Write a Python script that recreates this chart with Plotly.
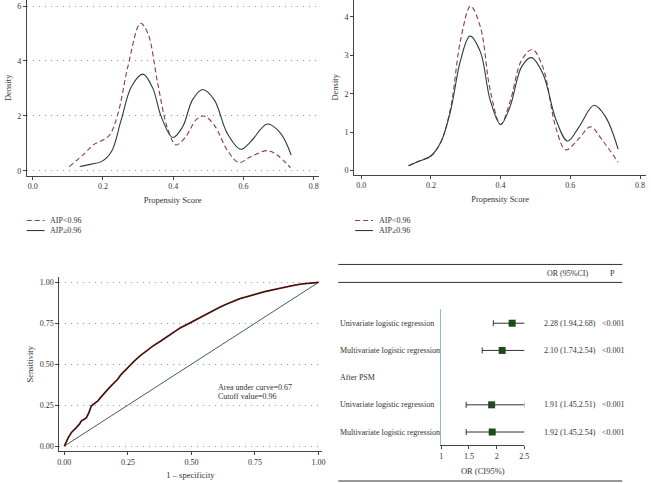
import plotly.graph_objects as go

# ---------------- data ----------------
# Before PSM density (top-left)
pre_low_x = [0.104, 0.148, 0.172, 0.196, 0.219, 0.243, 0.271, 0.307, 0.328, 0.356, 0.384, 0.408,
             0.436, 0.465, 0.488, 0.517, 0.554, 0.587, 0.621, 0.668, 0.696, 0.734]
pre_low_y = [0.15, 0.63, 0.94, 1.09, 1.30, 2.09, 3.79, 5.37, 5.00, 3.18, 1.54, 0.94,
             1.24, 1.85, 1.99, 1.66, 0.75, 0.30, 0.51, 0.73, 0.57, 0.11]
pre_high_x = [0.134, 0.167, 0.196, 0.224, 0.252, 0.281, 0.314, 0.342, 0.366, 0.399, 0.427, 0.455,
              0.484, 0.517, 0.554, 0.592, 0.621, 0.668, 0.706, 0.736]
pre_high_y = [0.15, 0.24, 0.33, 0.69, 1.85, 3.06, 3.52, 3.00, 1.97, 1.21, 1.60, 2.58,
              2.96, 2.58, 1.36, 0.78, 1.06, 1.70, 1.36, 0.57]

# After PSM density (top-right)
post_low_x = [0.136, 0.167, 0.200, 0.229, 0.257, 0.285, 0.314, 0.342, 0.370, 0.400, 0.427, 0.460,
              0.491, 0.521, 0.559, 0.587, 0.625, 0.658, 0.691, 0.737]
post_low_y = [0.13, 0.25, 0.38, 0.75, 1.65, 3.39, 4.28, 3.74, 2.10, 1.20, 1.79, 2.87,
              3.15, 2.70, 1.10, 0.54, 0.84, 1.14, 0.80, 0.22]
post_high_x = [0.136, 0.167, 0.200, 0.229, 0.257, 0.285, 0.312, 0.342, 0.370, 0.400, 0.427, 0.460,
               0.488, 0.521, 0.559, 0.592, 0.625, 0.668, 0.701, 0.737]
post_high_y = [0.13, 0.25, 0.38, 0.75, 1.58, 2.87, 3.50, 3.09, 1.84, 1.20, 1.66, 2.70,
               2.94, 2.53, 1.32, 0.77, 1.14, 1.70, 1.40, 0.56]

# ROC curve
roc_fpr = [0.000, 0.008, 0.016, 0.028, 0.040, 0.048, 0.060, 0.067, 0.080, 0.087, 0.097, 0.106,
           0.120, 0.132, 0.145, 0.158, 0.170, 0.184, 0.197, 0.210, 0.222, 0.236, 0.255, 0.275,
           0.295, 0.313, 0.333, 0.352, 0.378, 0.404, 0.430, 0.456, 0.482, 0.508, 0.534, 0.560,
           0.585, 0.611, 0.637, 0.663, 0.690, 0.715, 0.754, 0.793, 0.832, 0.870, 0.903, 0.935,
           0.968, 1.000]
roc_tpr = [0.000, 0.030, 0.053, 0.083, 0.100, 0.114, 0.135, 0.154, 0.165, 0.174, 0.205, 0.245,
           0.262, 0.276, 0.300, 0.327, 0.345, 0.367, 0.385, 0.408, 0.435, 0.458, 0.490, 0.519,
           0.548, 0.570, 0.595, 0.615, 0.640, 0.667, 0.695, 0.722, 0.742, 0.763, 0.787, 0.809,
           0.830, 0.848, 0.866, 0.884, 0.900, 0.911, 0.930, 0.945, 0.958, 0.972, 0.982, 0.990,
           0.996, 1.000]
diag_x = [0, 1]
diag_y = [0, 1]

# Forest plot
forest_labels = ["Univariate logistic regression", "Multivariate logistic regression",
                 "Univariate logistic regression", "Multivariate logistic regression"]
forest_rows = [6, 5, 3, 2]
forest_or = [2.28, 2.10, 1.91, 1.92]
forest_lo = [1.94, 1.74, 1.45, 1.45]
forest_hi = [2.68, 2.54, 2.51, 2.54]
forest_p = ["<0.001", "<0.001", "<0.001", "<0.001"]
group_labels = ["Before PSM", "After PSM"]
group_rows = [6.92, 4]

W, H = 651, 483
def px(x):
    return x / W
def py(y):
    return 1 - y / H

FONT = "Liberation Serif"
C_LOW = "#8b3a44"
C_HIGH = "#2b3942"
AX = "#444444"
GRID = "#9a9a9a"
GDASH = "1px,5px"
LDASH = "5px,3px"

fig = go.Figure()

# top-left
fig.add_trace(go.Scatter(x=pre_low_x, y=pre_low_y, mode="lines", line=dict(color=C_LOW, width=1.1, dash=LDASH, shape="spline"),
                         xaxis="x", yaxis="y", showlegend=False))
fig.add_trace(go.Scatter(x=pre_high_x, y=pre_high_y, mode="lines", line=dict(color=C_HIGH, width=1.1, shape="spline"),
                         xaxis="x", yaxis="y", showlegend=False))
# top-right
fig.add_trace(go.Scatter(x=post_low_x, y=post_low_y, mode="lines", line=dict(color=C_LOW, width=1.1, dash=LDASH, shape="spline"),
                         xaxis="x2", yaxis="y2", showlegend=False))
fig.add_trace(go.Scatter(x=post_high_x, y=post_high_y, mode="lines", line=dict(color=C_HIGH, width=1.1, shape="spline"),
                         xaxis="x2", yaxis="y2", showlegend=False))
# ROC
fig.add_trace(go.Scatter(x=diag_x, y=diag_y, mode="lines", line=dict(color="#3f5e59", width=1),
                         xaxis="x3", yaxis="y3", showlegend=False))
fig.add_trace(go.Scatter(x=roc_fpr, y=roc_tpr, mode="lines", line=dict(color="#c0392b", width=1.8),
                         xaxis="x3", yaxis="y3", showlegend=False))
fig.add_trace(go.Scatter(x=roc_fpr, y=roc_tpr, mode="lines", line=dict(color="#151515", width=1.1),
                         xaxis="x3", yaxis="y3", showlegend=False))
# forest
fig.add_trace(go.Scatter(
    x=forest_or, y=forest_rows, mode="markers",
    marker=dict(symbol="square", size=7, color="#1e4a1e"),
    error_x=dict(type="data", symmetric=False,
                 array=[h - o for h, o in zip(forest_hi, forest_or)],
                 arrayminus=[o - l for o, l in zip(forest_or, forest_lo)],
                 color="#333333", thickness=1, width=3),
    xaxis="x4", yaxis="y4", showlegend=False, cliponaxis=False))

tickfont = dict(family=FONT, size=8, color="#333")
titlefont = dict(family=FONT, size=8.5, color="#333")

def ax_common(**kw):
    d = dict(showline=True, linecolor=AX, linewidth=1, ticks="outside", ticklen=3, tickcolor=AX,
             tickfont=tickfont, zeroline=False, showgrid=False)
    d.update(kw)
    return d

fig.update_layout(
    width=W, height=H, margin=dict(l=0, r=0, t=0, b=0),
    paper_bgcolor="white", plot_bgcolor="white",
    font=dict(family=FONT, size=8, color="#333"),
    xaxis=ax_common(domain=[px(25), px(320)], range=[-0.017, 0.814], anchor="y",
                    tickvals=[0, 0.2, 0.4, 0.6, 0.8], ticktext=["0.0", "0.2", "0.4", "0.6", "0.8"],
                    title=dict(text="Propensity Score", font=titlefont, standoff=6)),
    yaxis=ax_common(domain=[py(176), 1], range=[-0.18, 6.22], anchor="x",
                    tickvals=[0, 2, 4, 6], showgrid=True, gridcolor=GRID, griddash=GDASH, gridwidth=1,
                    title=dict(text="Density", font=titlefont, standoff=4)),
    xaxis2=ax_common(domain=[px(356), 1], range=[-0.02, 0.817], anchor="y2",
                     tickvals=[0, 0.2, 0.4, 0.6, 0.8], ticktext=["0.0", "0.2", "0.4", "0.6", "0.8"],
                     title=dict(text="Propensity Score", font=titlefont, standoff=6)),
    yaxis2=ax_common(domain=[py(175), 1], range=[-0.104, 4.44], anchor="x2",
                     tickvals=[0, 1, 2, 3, 4],
                     title=dict(text="Density", font=titlefont, standoff=4)),
    xaxis3=ax_common(domain=[px(58), px(323)], range=[-0.0195, 1.0117], anchor="y3",
                     tickvals=[0, 0.25, 0.5, 0.75, 1.0], ticktext=["0.00", "0.25", "0.50", "0.75", "1.00"],
                     title=dict(text="1 – specificity", font=titlefont, standoff=6)),
    yaxis3=ax_common(domain=[py(452), py(278)], range=[-0.0305, 1.03], anchor="x3",
                     tickvals=[0, 0.25, 0.5, 0.75, 1.0], ticktext=["0.00", "0.25", "0.50", "0.75", "1.00"],
                     showgrid=True, gridcolor=GRID, griddash=GDASH, gridwidth=1,
                     title=dict(text="Sensitivity", font=titlefont, standoff=4)),
    xaxis4=ax_common(domain=[px(444), px(528)], range=[1, 2.5], anchor="y4",
                     tickvals=[1, 1.5, 2, 2.5], ticktext=["1", "1.5", "2", "2.5"],
                     title=dict(text="OR (CI95%)", font=titlefont, standoff=8)),
    yaxis4=dict(domain=[py(446), py(310)], range=[1.52, 6.51], anchor="x4",
                showline=True, linecolor="#8fbccc", linewidth=1, showticklabels=False,
                ticks="", showgrid=False, zeroline=False),
)

shapes = []
ann = []
# manual legends
for x0 in [25, 357]:
    shapes.append(dict(type="line", xref="paper", yref="paper", x0=px(x0), x1=px(x0 + 18),
                       y0=py(221), y1=py(221), line=dict(color=C_LOW, width=1.1, dash=LDASH)))
    shapes.append(dict(type="line", xref="paper", yref="paper", x0=px(x0), x1=px(x0 + 18),
                       y0=py(231), y1=py(231), line=dict(color=C_HIGH, width=1.1)))
    ann.append(dict(text="AIP<0.96".replace("<", "&lt;"), xref="paper", yref="paper", x=px(x0 + 22), y=py(221),
                    xanchor="left", yanchor="middle", showarrow=False, font=dict(family=FONT, size=8, color="#333")))
    ann.append(dict(text="AIP≥0.96", xref="paper", yref="paper", x=px(x0 + 22), y=py(231),
                    xanchor="left", yanchor="middle", showarrow=False, font=dict(family=FONT, size=8, color="#333")))

# ROC annotation
ann.append(dict(text="Area under curve=0.67", xref="paper", yref="paper", x=px(216), y=py(388),
                xanchor="left", yanchor="middle", showarrow=False, font=dict(family=FONT, size=8, color="#333")))
ann.append(dict(text="Cutoff value=0.96", xref="paper", yref="paper", x=px(216), y=py(397),
                xanchor="left", yanchor="middle", showarrow=False, font=dict(family=FONT, size=8, color="#333")))

# forest table
for yy in [265, 283, 482]:
    shapes.append(dict(type="line", xref="paper", yref="paper", x0=px(340), x1=px(627),
                       y0=py(yy), y1=py(yy), line=dict(color="#333", width=1)))
ann.append(dict(text="OR (95%CI)", xref="paper", yref="paper", x=px(572), y=py(274),
                xanchor="center", yanchor="middle", showarrow=False, font=dict(family=FONT, size=8, color="#333")))
ann.append(dict(text="P", xref="paper", yref="paper", x=px(617), y=py(274),
                xanchor="center", yanchor="middle", showarrow=False, font=dict(family=FONT, size=8, color="#333")))
for lab, r in zip(group_labels, group_rows):
    ann.append(dict(text=lab, xref="paper", yref="y4", x=px(340), y=r,
                    xanchor="left", yanchor="middle", showarrow=False, font=dict(family=FONT, size=8, color="#333")))
for lab, r, o, lo, hi, p in zip(forest_labels, forest_rows, forest_or, forest_lo, forest_hi, forest_p):
    ann.append(dict(text=lab, xref="paper", yref="y4", x=px(340), y=r,
                    xanchor="left", yanchor="middle", showarrow=False, font=dict(family=FONT, size=8, color="#333")))
    ann.append(dict(text=f"{o:.2f} ({lo:.2f},{hi:.2f})", xref="paper", yref="y4", x=px(546), y=r,
                    xanchor="left", yanchor="middle", showarrow=False, font=dict(family=FONT, size=8, color="#333")))
    ann.append(dict(text=p.replace("<", "&lt;"), xref="paper", yref="y4", x=px(605), y=r,
                    xanchor="left", yanchor="middle", showarrow=False, font=dict(family=FONT, size=8, color="#333")))

fig.update_layout(shapes=shapes, annotations=ann)
fig.write_html("out.html", config={"displayModeBar": False},
               post_script="document.body.style.margin='0px';document.body.style.overflow='hidden';")
